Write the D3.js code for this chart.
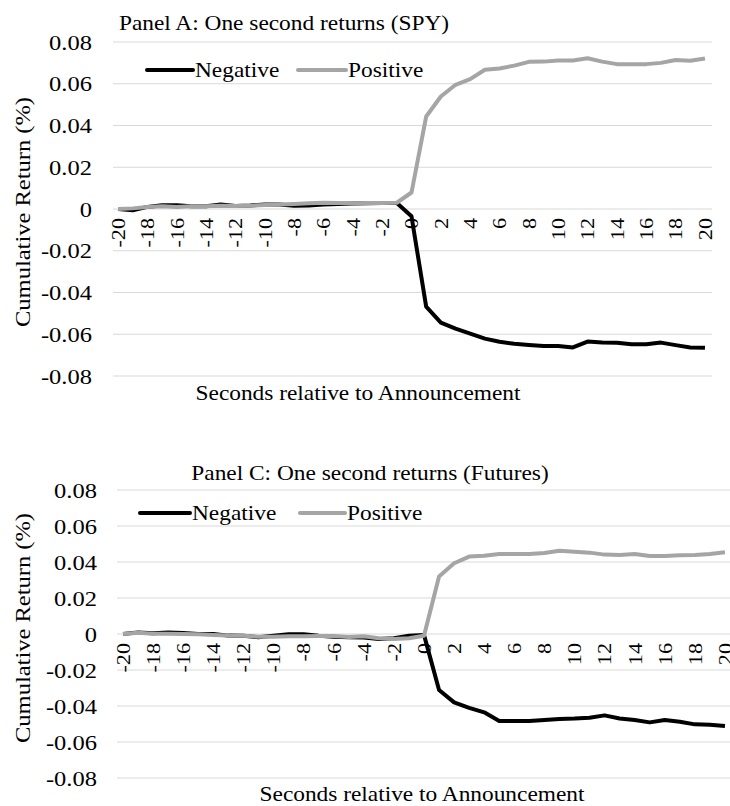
<!DOCTYPE html>
<html>
<head>
<meta charset="utf-8">
<script src="https://cdn.jsdelivr.net/npm/d3@7"></script>
<style>
  body { margin: 0; background: #fff; }
  text { font-family: "Liberation Serif", "Times New Roman", serif; fill: #000; }
</style>
</head>
<body>
<div id="chart"></div>
<script>
// categories: seconds relative to the announcement
var seconds = [-20, -19, -18, -17, -16, -15, -14, -13, -12, -11, -10, -9, -8, -7, -6, -5, -4, -3, -2, -1,
  0, 1, 2, 3, 4, 5, 6, 7, 8, 9, 10, 11, 12, 13, 14, 15, 16, 17, 18, 19, 20];
var yTicks = [-0.08, -0.06, -0.04, -0.02, 0, 0.02, 0.04, 0.06, 0.08];

// Panel A : SPY
var spyNegative = [0, -0.0006, 0.001, 0.0018, 0.0018, 0.0013, 0.0013, 0.0022, 0.0014, 0.0017,
  0.0022, 0.0021, 0.0016, 0.0017, 0.0021, 0.0024, 0.0026, 0.0027, 0.0029, 0.0029,
  -0.0035, -0.0468, -0.0544, -0.0573, -0.0597, -0.0621, -0.0636, -0.0646, -0.0651, -0.0656,
  -0.0656, -0.0663, -0.0635, -0.064, -0.0641, -0.0648, -0.0648, -0.064, -0.0652, -0.0663, -0.0665];
var spyPositive = [0, 0.0003, 0.001, 0.0013, 0.001, 0.0013, 0.0013, 0.0016, 0.0014, 0.0016,
  0.0019, 0.0022, 0.0024, 0.0027, 0.003, 0.0029, 0.0027, 0.0029, 0.0029, 0.003,
  0.0079, 0.0443, 0.0539, 0.0595, 0.0622, 0.0667, 0.0673, 0.0687, 0.0705, 0.0706,
  0.0711, 0.0711, 0.0722, 0.0706, 0.0694, 0.0694, 0.0694, 0.070, 0.0714, 0.071, 0.0721];

// Panel C : Futures
var futNegative = [0, 0.0009, 0.0004, 0.0009, 0.0005, 0, 0, -0.0009, -0.001, -0.0018,
  -0.0009, -0.0002, -0.0002, -0.001, -0.0015, -0.0018, -0.002, -0.0028, -0.0024, -0.001,
  -0.0005, -0.0311, -0.038, -0.041, -0.0435, -0.0483, -0.0483, -0.0483, -0.0478, -0.0472,
  -0.047, -0.0465, -0.0452, -0.0469, -0.0478, -0.0491, -0.0478, -0.0487, -0.0502, -0.0504, -0.0511];
var futPositive = [0, 0.0007, 0.0002, 0.0002, 0, -0.0002, -0.0005, -0.0009, -0.001, -0.0015,
  -0.0015, -0.0013, -0.0013, -0.0011, -0.0011, -0.0017, -0.0013, -0.0024, -0.0028, -0.0024,
  -0.001, 0.0319, 0.0393, 0.043, 0.0435, 0.0444, 0.0444, 0.0444, 0.045, 0.0463,
  0.0457, 0.0452, 0.0441, 0.0439, 0.0444, 0.0433, 0.0433, 0.0437, 0.0439, 0.0444, 0.0454];

var seriesNames = ["Negative", "Positive"];
var colors = ["#000000", "#a5a5a5"];

// the original text is a bit wider than Liberation Serif, so stretch along the reading direction
var stretch = 1.14;

var svg = d3.select("#chart")
  .append("svg")
  .attr("width", 730)
  .attr("height", 806);

function label(g, x, y, txt, size, anchor, rotated) {
  return g.append("text")
    .attr("transform", "translate(" + x + "," + y + ")" + (rotated ? " rotate(-90)" : "") +
      " scale(" + stretch + ",1)")
    .attr("text-anchor", anchor)
    .attr("font-size", size)
    .text(txt);
}

function drawPanel(p) {
  var g = svg.append("g");

  let x = d3.scalePoint()
    .domain(seconds)
    .range([p.left, p.right])
    .padding(0.5);
  let y = d3.scaleLinear()
    .domain([-0.08, 0.08])
    .range([p.bottom, p.top]);

  // gridlines
  g.append("g")
    .selectAll("line")
    .data(yTicks)
    .enter().append("line")
    .attr("x1", p.gridLeft)
    .attr("x2", p.gridRight)
    .attr("y1", function(d) { return y(d); })
    .attr("y2", function(d) { return y(d); })
    .attr("stroke", "#d9d9d9")
    .attr("stroke-width", 1);

  // y tick labels
  yTicks.forEach(function(d) {
    label(g, p.yLabelX, y(d), d === 0 ? "0" : d3.format(".2f")(d).replace("−", "-"), 21.5, "end")
      .attr("dy", "0.35em");
  });

  // x tick labels, every other second, rotated
  seconds.filter(function(d) { return d % 2 === 0; }).forEach(function(d) {
    label(g, x(d), y(0) + 9, String(d), 19.5, "end", true)
      .attr("dy", "0.35em");
  });

  // lines
  let line = d3.line()
    .x(function(d, i) { return x(seconds[i]); })
    .y(function(d) { return y(d); });

  [p.negative, p.positive].forEach(function(vals, k) {
    g.append("path")
      .datum(vals)
      .attr("fill", "none")
      .attr("stroke", colors[k])
      .attr("stroke-width", 4)
      .attr("stroke-linejoin", "round")
      .attr("d", line);
  });

  // legend
  p.legend.forEach(function(l, k) {
    g.append("line")
      .attr("x1", l[0]).attr("x2", l[1])
      .attr("y1", p.legendY).attr("y2", p.legendY)
      .attr("stroke", colors[k])
      .attr("stroke-width", 4)
      .attr("stroke-linecap", "round");
    label(g, l[1] + 2, p.legendY, seriesNames[k], 20.5, "start")
      .attr("dy", "0.33em");
  });

  // titles
  label(g, p.titleX, p.titleY, p.title, 20.5, "middle");
  label(g, p.xTitleX, p.xTitleY, "Seconds relative to Announcement", 20.5, "middle");
  label(g, p.yTitleX, p.yTitleY, "Cumulative Return (%)", 21.5, "middle", true)
    .attr("dy", "0.35em");
}

drawPanel({
  title: "Panel A: One second returns (SPY)",
  negative: spyNegative, positive: spyPositive,
  left: 110.7, right: 712.3, top: 42, bottom: 376,
  gridLeft: 113, gridRight: 712, yLabelX: 92,
  legendY: 70, legend: [[147, 193], [298, 346]],
  titleX: 284, titleY: 30,
  xTitleX: 358, xTitleY: 400,
  yTitleX: 22, yTitleY: 212
});

drawPanel({
  title: "Panel C: One second returns (Futures)",
  negative: futNegative, positive: futPositive,
  left: 115.5, right: 732.5, top: 490, bottom: 778,
  gridLeft: 117, gridRight: 730, yLabelX: 97,
  legendY: 513, legend: [[140, 190], [300, 345]],
  titleX: 370, titleY: 480,
  xTitleX: 422, xTitleY: 801,
  yTitleX: 22, yTitleY: 628
});
</script>
</body>
</html>
